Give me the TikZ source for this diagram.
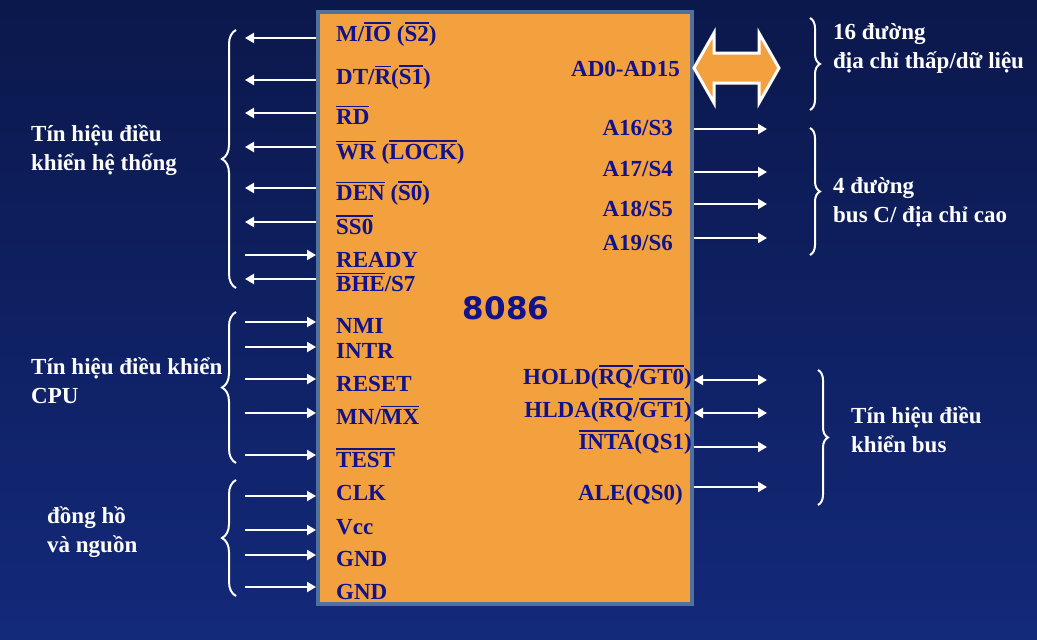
\documentclass[tikz,border=0pt]{standalone}
\usepackage{fontspec}
\setmainfont{Liberation Serif}
\newfontfamily\chipfont{DejaVu Sans}
\usetikzlibrary{arrows.meta,decorations.pathreplacing}

\definecolor{nentren}{HTML}{0B184C}
\definecolor{nenduoi}{HTML}{13297A}
\definecolor{cam}{HTML}{F2A13E}
\definecolor{vien}{HTML}{50709E}
\definecolor{chu}{HTML}{12128A}

\newcommand\ovl[1]{\vbox{\hrule height 1.6pt\kern 1.8pt\hbox{#1}}}

\tikzset{
  pinlabel/.style={inner sep=0pt, text=chu, font=\fontsize{23}{27}\selectfont\bfseries},
  nhom/.style={inner sep=0pt, text=white, align=left, anchor=base west,
    font=\fontsize{23}{29}\selectfont\bfseries},
  sigout/.style={white, line width=2.6pt, -{Triangle[length=9pt,width=10pt]}},
  sigin/.style={white, line width=2.6pt, {Triangle[length=9pt,width=10pt]}-},
  sigboth/.style={white, line width=2.6pt, {Triangle[length=9pt,width=10pt]}-{Triangle[length=9pt,width=10pt]}},
  ngoac/.style={white, line width=2pt, decorate, decoration={brace, amplitude=#1}},
  ngoac/.default=14pt
}

\begin{document}
\begin{tikzpicture}[x=1pt, y=-1pt]
\shade[top color=nentren, bottom color=nenduoi] (0,0) rectangle (1037,640);

% vi xu ly
\node[draw=vien, line width=4pt, fill=cam, minimum width=374pt, minimum height=592pt,
  inner sep=0pt] (chip) at (505,308) {};
\node[text=chu, font=\chipfont\fontsize{31}{36}\selectfont\bfseries] (ten) at (506,308) {8086};

% chan ben trai: {y mui ten}/{y chu}/{huong}/{nhan}
\foreach \ya/\yt/\dir/\lab [count=\i] in {
  38/33/sigout/{M/\ovl{IO} (\ovl{S2})},
  80/76/sigout/{DT/\ovl{R}(\ovl{S1})},
  113/116/sigout/{\ovl{RD}},
  147/151/sigout/{\ovl{WR} (\ovl{LOCK})},
  188/192/sigout/{\ovl{DEN} (\ovl{S0})},
  222/226/sigout/{\ovl{SS0}},
  255/259/sigin/{READY},
  279/283/sigout/{\ovl{BHE}/S7},
  322/325/sigin/{NMI},
  347/350/sigin/{INTR},
  379/383/sigin/{RESET},
  413/416/sigin/{MN/\ovl{MX}},
  455/459/sigin/{\ovl{TEST}},
  496/492/sigin/{CLK},
  530/526/sigin/{Vcc},
  555/558/sigin/{GND},
  587/591/sigin/{GND}}
{
  \node[pinlabel, anchor=base west] (pinL\i) at (336,\yt+8) {\lab};
  \coordinate (endL\i) at (245,\ya);
  \draw[\dir] (endL\i -| chip.west) -- (endL\i);
}

% chan ben phai: {y mui ten}/{y chu}/{x chu}/{huong}/{nhan}
\foreach \ya/\yt/\xr/\dir/\lab [count=\i] in {
  129/127/673/sigout/{A16/S3},
  172/168/673/sigout/{A17/S4},
  204/208/673/sigout/{A18/S5},
  238/242/673/sigout/{A19/S6},
  380/376/692/sigboth/{HOLD(\ovl{RQ}/\ovl{GT0})},
  413/409/692/sigboth/{HLDA(\ovl{RQ}/\ovl{GT1})},
  447/441/692/sigout/{\ovl{INTA}(QS1)},
  487/492/683/sigout/{ALE(QS0)}}
{
  \node[pinlabel, anchor=base east] (pinR\i) at (\xr,\yt+8) {\lab};
  \coordinate (endR\i) at (767,\ya);
  \draw[\dir] (endR\i -| chip.east) -- (endR\i);
}

% bus dia chi/du lieu
\node[pinlabel, anchor=base east] (ad) at (680,76) {AD0-AD15};
\draw[white, line width=3pt, fill=cam] (chip.east |- 0,68) -- ++(20,-35) -- ++(0,20)
  -- ++(45,0) -- ++(0,-20) -- ++(20,35) -- ++(-20,35) -- ++(0,-20) -- ++(-45,0)
  -- ++(0,20) -- cycle;

% ngoac nhom
\coordinate (gL1a) at (236,288); \coordinate (gL1b) at (236,30);
\coordinate (gL2a) at (236,463); \coordinate (gL2b) at (236,312);
\coordinate (gL3a) at (236,596); \coordinate (gL3b) at (236,480);
\coordinate (gR1a) at (810,18);  \coordinate (gR1b) at (810,110);
\coordinate (gR2a) at (810,128); \coordinate (gR2b) at (810,255);
\coordinate (gR3a) at (818,370); \coordinate (gR3b) at (818,505);
\draw[ngoac] (gL1a) -- (gL1b);
\draw[ngoac] (gL2a) -- (gL2b);
\draw[ngoac] (gL3a) -- (gL3b);
\draw[ngoac=10pt] (gR1a) -- (gR1b);
\draw[ngoac=10pt] (gR2a) -- (gR2b);
\draw[ngoac=10pt] (gR3a) -- (gR3b);

\node[nhom] (hethong) at (31,170) {Tín hiệu điều\\khiển hệ thống};
\node[nhom] (cpu) at (31,403) {Tín hiệu điều khiển\\CPU};
\node[nhom] (nguon) at (47,552) {đồng hồ\\và nguồn};
\node[nhom] (thap) at (833,68) {16 đường\\địa chỉ thấp/dữ liệu};
\node[nhom] (cao) at (833,222) {4 đường\\bus C/ địa chỉ cao};
\node[nhom] (bus) at (851,452) {Tín hiệu điều\\khiển bus};
\end{tikzpicture}
\end{document}
